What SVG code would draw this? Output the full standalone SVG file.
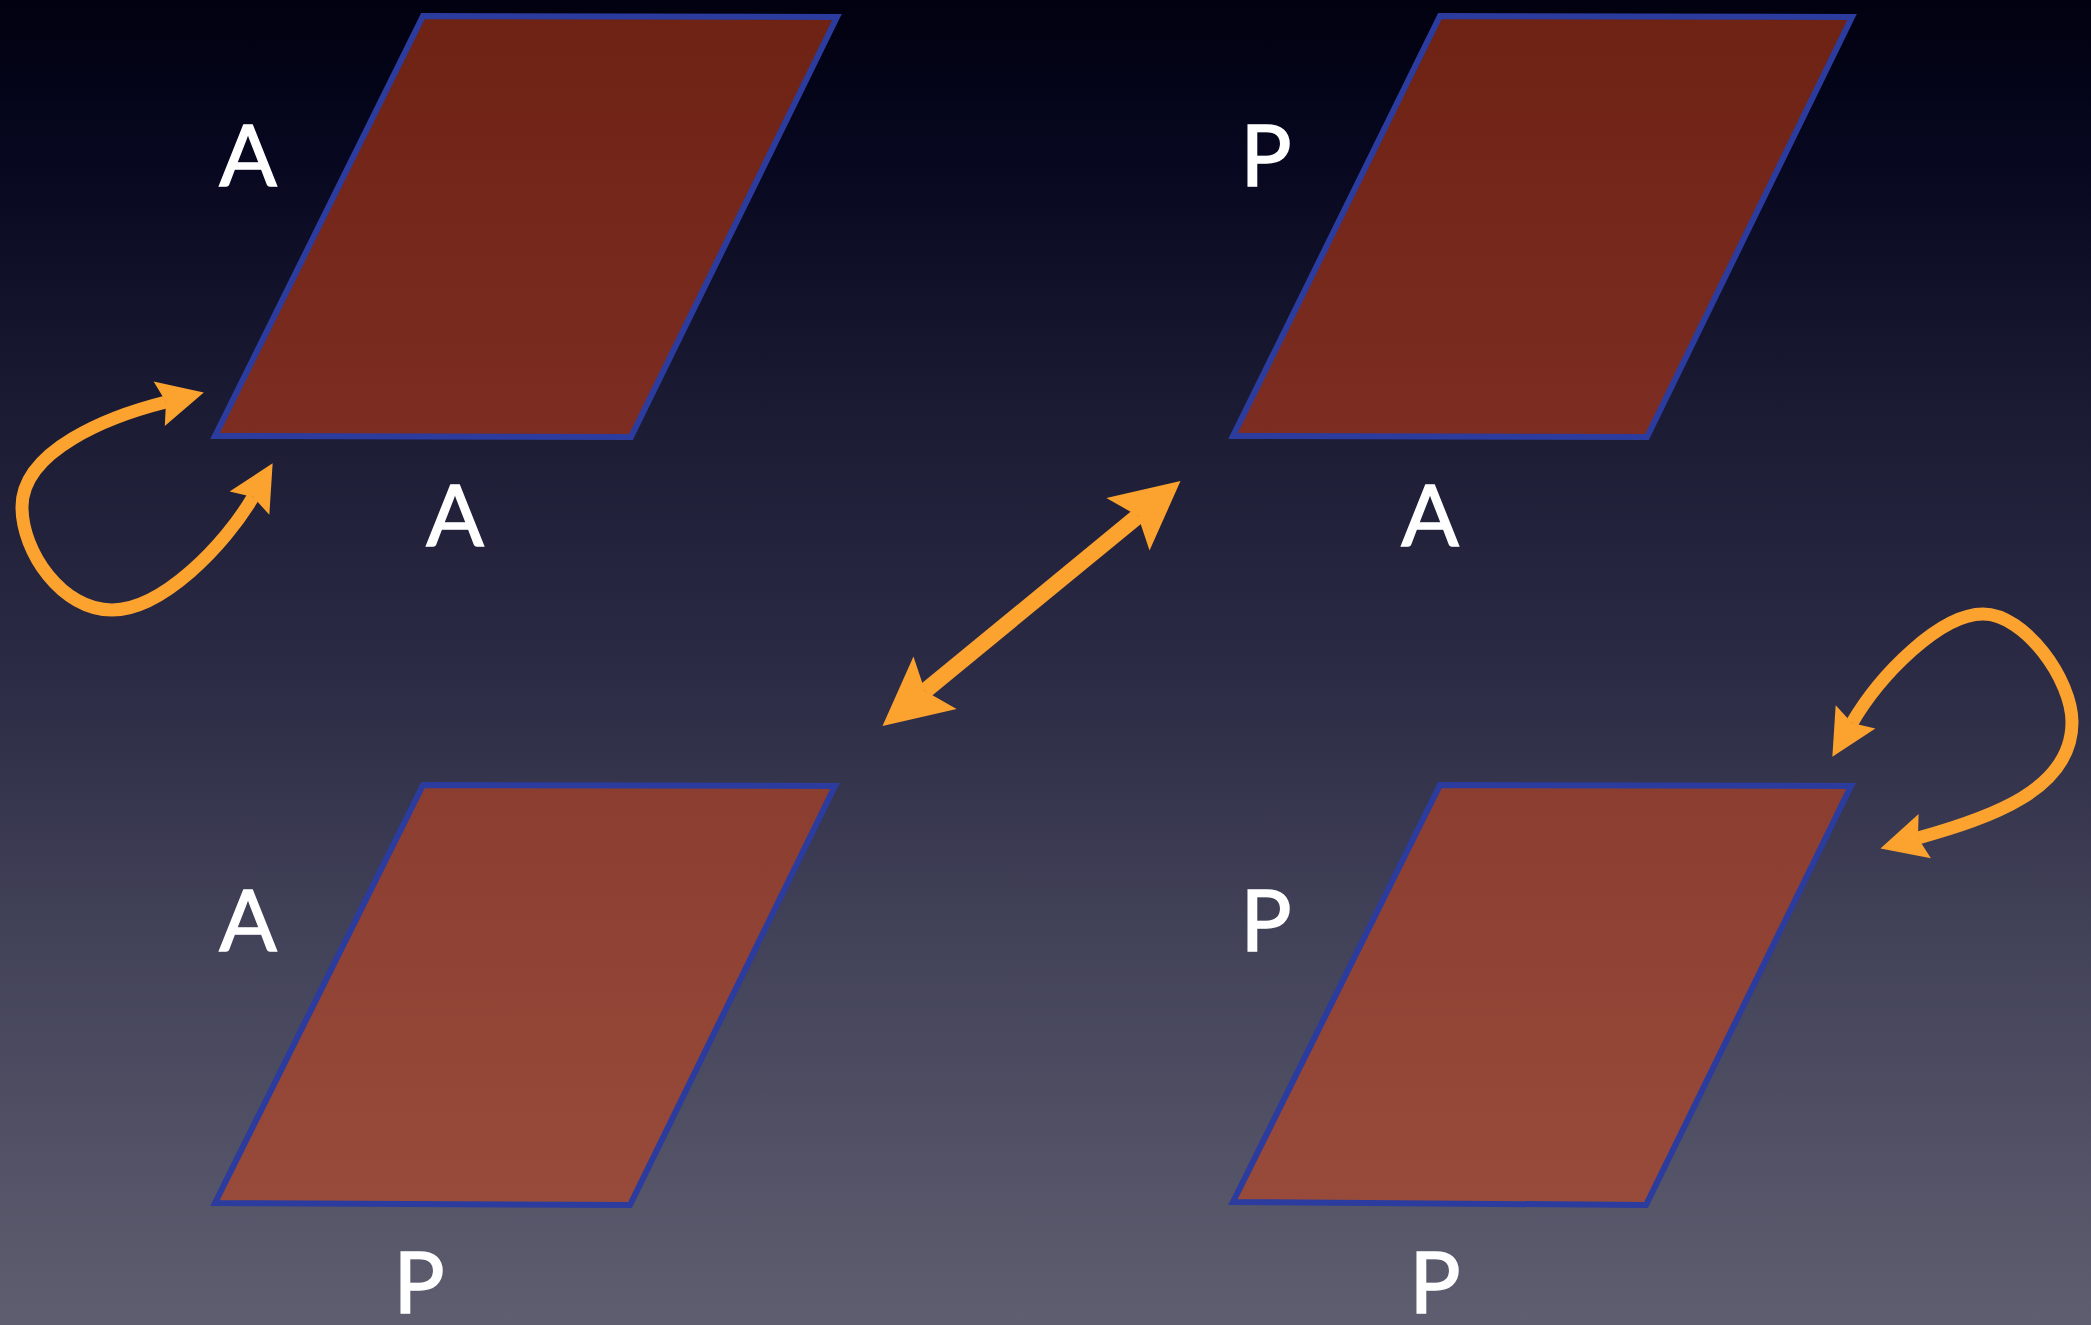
<svg xmlns="http://www.w3.org/2000/svg" width="2091" height="1325" viewBox="0 0 2091 1325">
  <defs>
    <linearGradient id="bg" x1="0" y1="0" x2="0" y2="1325" gradientUnits="userSpaceOnUse">
      <stop offset="0" stop-color="#010110"/>
      <stop offset="0.12" stop-color="#070720"/>
      <stop offset="0.3" stop-color="#1a1a33"/>
      <stop offset="0.5" stop-color="#2b2a44"/>
      <stop offset="0.7" stop-color="#414158"/>
      <stop offset="1" stop-color="#5f5e70"/>
    </linearGradient>
    <linearGradient id="slab" x1="0" y1="0" x2="0" y2="1325" gradientUnits="userSpaceOnUse">
      <stop offset="0" stop-color="#6d2213"/>
      <stop offset="0.33" stop-color="#7d2d22"/>
      <stop offset="0.59" stop-color="#8b3e30"/>
      <stop offset="0.91" stop-color="#984b3a"/>
      <stop offset="1" stop-color="#9b4e3c"/>
    </linearGradient>
    <marker id="headLoop" viewBox="0 -25 50 50" markerWidth="50" markerHeight="50" refX="7" refY="0" markerUnits="userSpaceOnUse" orient="auto-start-reverse" overflow="visible">
      <path d="M0,-23 L46,0 L0,23 L7,0 Z" fill="#fba22f"/>
    </marker>
    <marker id="headLine" viewBox="0 -36 72 72" markerWidth="72" markerHeight="72" refX="13" refY="0" markerUnits="userSpaceOnUse" orient="auto-start-reverse" overflow="visible">
      <path d="M0,-34 L68,0 L0,34 L13,0 Z" fill="#fba22f"/>
    </marker>
  </defs>
  <style>
    .slab { fill: url(#slab); stroke: #2b3c9e; stroke-width: 6; stroke-linejoin: miter; }
    .lbl { font-family: Lato, "Liberation Sans", sans-serif; font-size: 85px; fill: #ffffff; stroke: #ffffff; stroke-width: 1.5; text-anchor: middle; }
    .loop { fill: none; stroke: #fba22f; stroke-width: 13; marker-start: url(#headLoop); marker-end: url(#headLoop); }
    .dbl { fill: none; stroke: #fba22f; stroke-width: 16; marker-start: url(#headLine); marker-end: url(#headLine); }
  </style>
  <rect x="0" y="0" width="2091" height="1325" fill="url(#bg)"/>

  <g id="node-top-left">
    <polygon class="slab" points="423,16 837,17 631,437 215,436"/>
    <text class="lbl" x="248" y="186">A</text>
    <text class="lbl" x="455" y="546">A</text>
  </g>
  <g id="node-top-right">
    <polygon class="slab" points="1440,16 1852,17 1647,437 1233,436"/>
    <text class="lbl" x="1266" y="186">P</text>
    <text class="lbl" x="1430" y="546">A</text>
  </g>
  <g id="node-bottom-left">
    <polygon class="slab" points="423,785 835,786 630,1205 215,1203"/>
    <text class="lbl" x="248" y="951">A</text>
    <text class="lbl" x="419" y="1313">P</text>
  </g>
  <g id="node-bottom-right">
    <polygon class="slab" points="1440,785 1851,786 1646,1205 1233,1202"/>
    <text class="lbl" x="1266" y="951">P</text>
    <text class="lbl" x="1435" y="1313">P</text>
  </g>

  <g id="connectors">
    <path class="loop" d="M166,402 C110,416 22,450 22,507 C22,552 62,610 112,610 C162,610 225,545 253,497"/>
    <path class="loop" d="M1852,723 C1880,675 1940,614 1983,614 C2025,614 2072,680 2072,722 C2072,790 1990,818 1918,838"/>
    <path class="dbl" d="M925,691 L1138,516"/>
  </g>
</svg>
